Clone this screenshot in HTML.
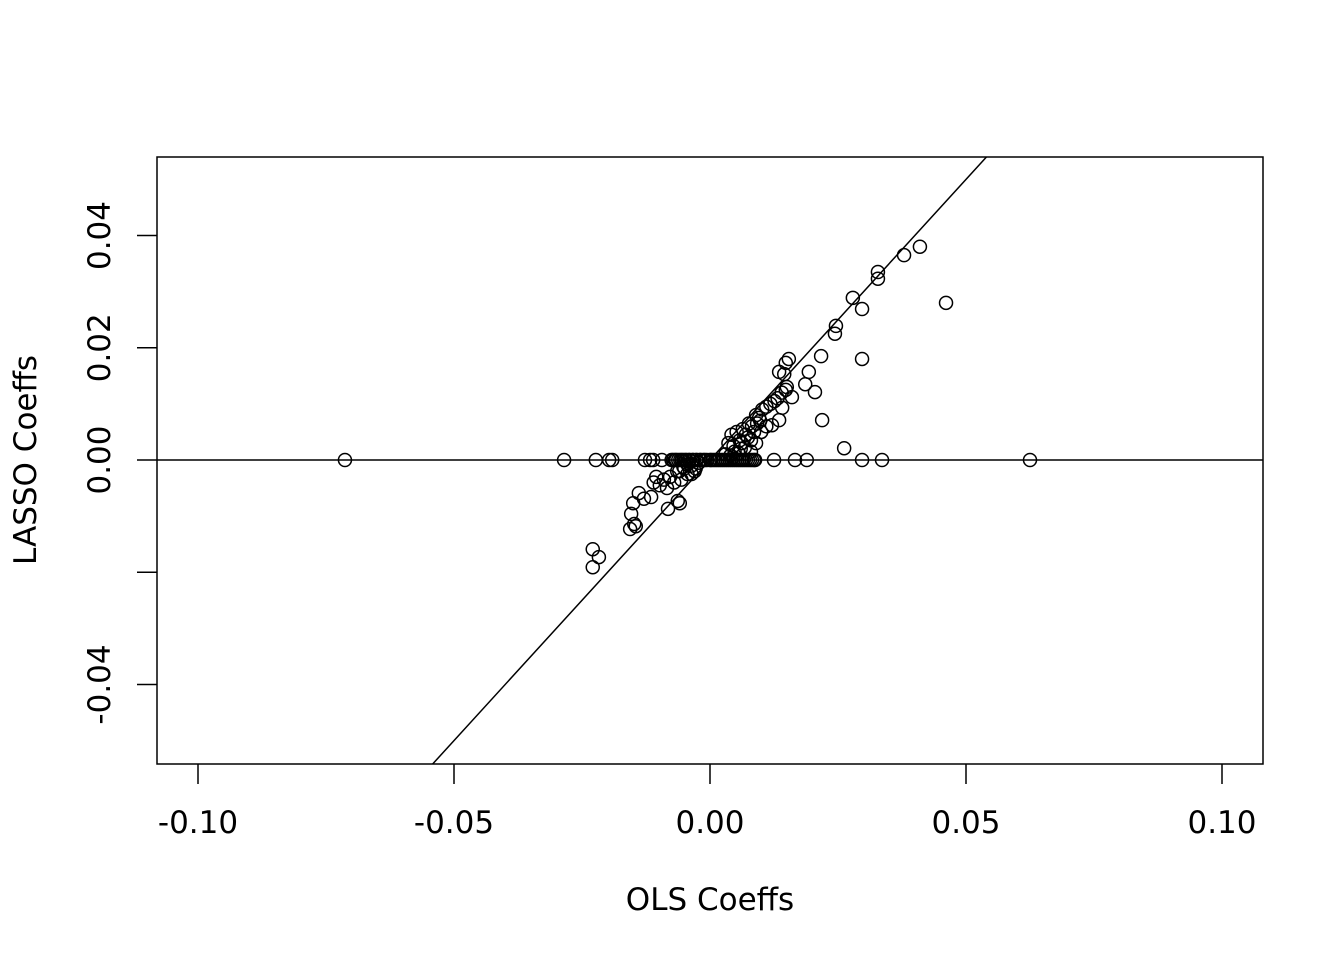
<!DOCTYPE html>
<html><head><meta charset="utf-8"><style>
html,body{margin:0;padding:0;background:#fff;}
svg text{font-family:"DejaVu Sans","Liberation Sans",sans-serif;font-size:31px;fill:#000;}
</style></head><body>
<svg id="chart" width="1344" height="960" xmlns="http://www.w3.org/2000/svg">
<rect x="157" y="157" width="1106" height="607" fill="none" stroke="#000" stroke-width="1.5"/>
<g id="axes"></g>
<g id="pts"></g>
<text x="710" y="910" text-anchor="middle">OLS Coeffs</text>
<text transform="translate(36,460) rotate(-90)" text-anchor="middle">LASSO Coeffs</text>
</svg>
<script>
const xTicks=[-0.10,-0.05,0.00,0.05,0.10];
const xTickLabels=["-0.10","-0.05","0.00","0.05","0.10"];
const yTicks=[0.04,0.02,0.00,-0.02,-0.04];
const yTickLabels=["0.04","0.02","0.00","","-0.04"];
const olsX=[-0.0713,-0.0285,-0.0223,-0.0197,-0.0191,0.0125,0.0166,0.0189,0.0297,0.0336,0.0625,-0.0127,-0.0117,-0.0111,-0.0094,
0.0262,0.0219,0.0297,0.0461,0.0410,0.0379,0.0328,0.0328,0.0279,0.0297,0.0246,0.0244,0.0217,0.0193,0.0186,0.0205,0.0154,0.0148,0.0135,0.0145,0.0150,0.0160,0.0141,0.0135,0.0121,
-0.0229,-0.0229,-0.0217,-0.0156,-0.0148,-0.0145,-0.0154,-0.0150,-0.0139,-0.0129,-0.0115,-0.0082,-0.0063,-0.0059,
-0.0075,-0.0068,-0.0062,-0.0055,-0.0048,-0.0041,-0.0034,-0.0027,-0.0020,-0.0013,-0.0006,0.0002,0.0010,0.0018,0.0026,0.0034,0.0042,0.0050,0.0058,0.0066,0.0074,0.0082,0.0088,
-0.0110,-0.0105,-0.0098,-0.0090,-0.0084,-0.0078,-0.0070,-0.0064,-0.0056,-0.0050,-0.0044,-0.0036,-0.0030,0.0030,0.0036,0.0042,0.0046,0.0052,0.0058,0.0064,0.0070,0.0076,0.0082,0.0090,0.0096,0.0102,0.0110,0.0118,0.0126,0.0132,0.0140,0.0148,0.0110,0.0100,0.0090,0.0080,0.0060,0.0045,
-0.0072,-0.0066,-0.0058,-0.0052,-0.0046,-0.0040,-0.0033,-0.0026,-0.0018,-0.0010,0.0000,0.0006,0.0014,0.0022,0.0030,0.0038,0.0046,0.0054,0.0062,0.0070,0.0078,0.0086,
-0.0060,-0.0052,-0.0044,-0.0036,-0.0028,-0.0022,0.0040,0.0048,0.0056,0.0062,0.0068,0.0074,0.0080,0.0086,0.0092,0.0098];
const lassoY=[0,0,0,0,0,0,0,0,0,0,0,0,0,0,0,
0.0021,0.0071,0.0180,0.0280,0.0380,0.0365,0.0335,0.0323,0.0289,0.0269,0.0239,0.0225,0.0185,0.0157,0.0135,0.0121,0.0180,0.0173,0.0157,0.0153,0.0130,0.0112,0.0093,0.0071,0.0062,
-0.0159,-0.0191,-0.0173,-0.0123,-0.0114,-0.0118,-0.0096,-0.0077,-0.0059,-0.0069,-0.0066,-0.0087,-0.0073,-0.0077,
0,0,0,0,0,0,0,0,0,0,0,0,0,0,0,0,0,0,0,0,0,0,0,
-0.0040,-0.0030,-0.0045,-0.0035,-0.0050,-0.0030,-0.0040,-0.0020,-0.0035,-0.0015,-0.0025,-0.0010,-0.0020,0.0010,0.0030,0.0045,0.0025,0.0050,0.0035,0.0055,0.0045,0.0065,0.0060,0.0080,0.0075,0.0090,0.0095,0.0100,0.0105,0.0110,0.0120,0.0125,0.0060,0.0050,0.0030,0.0015,0.0020,0.0005,
0,0,0,0,0,0,0,0,0,0,0,0,0,0,0,0,0,0,0,0,0,0,
-0.0020,-0.0012,-0.0008,-0.0025,-0.0015,-0.0005,0.0008,0.0015,0.0012,0.0030,0.0022,0.0040,0.0035,0.0050,0.0065,0.0070];
const sx=v=>710+v*5120;
const sy=v=>460-v*5612;
const NS="http://www.w3.org/2000/svg";
const ax=document.getElementById('axes');
function mk(t,a){const e=document.createElementNS(NS,t);for(const k in a)e.setAttribute(k,a[k]);return e;}
let x0=(460-764)/5612, x1=(460-157)/5612;
let diag=mk('line',{x1:sx(x0),y1:sy(x0),x2:sx(x1),y2:sy(x1),stroke:'#000','stroke-width':1.5});


ax.appendChild(diag);
let hz=mk('line',{x1:157,y1:sy(0),x2:1263,y2:sy(0),stroke:'#000','stroke-width':1.5});


ax.appendChild(hz);
xTicks.forEach((v,i)=>{
 let l=mk('line',{x1:sx(v),y1:764,x2:sx(v),y2:784,stroke:'#000','stroke-width':1.5});
 
 
 ax.appendChild(l);
 let t=mk('text',{x:sx(v),y:833,'text-anchor':'middle'});t.textContent=xTickLabels[i];
 
 
 ax.appendChild(t);
});
yTicks.forEach((v,i)=>{
 let l=mk('line',{x1:137,y1:sy(v),x2:157,y2:sy(v),stroke:'#000','stroke-width':1.5});
 
 
 ax.appendChild(l);
 let t=mk('text',{transform:`translate(110,${sy(v)}) rotate(-90)`,'text-anchor':'middle'});t.textContent=yTickLabels[i];
 
 
 ax.appendChild(t);
});
const pg=document.getElementById('pts');
olsX.forEach((v,i)=>{
 let c=mk('circle',{cx:sx(v),cy:sy(lassoY[i]),r:6.5,fill:'none',stroke:'#000','stroke-width':1.5});
 
 
 pg.appendChild(c);
});
</script>
</body></html>
